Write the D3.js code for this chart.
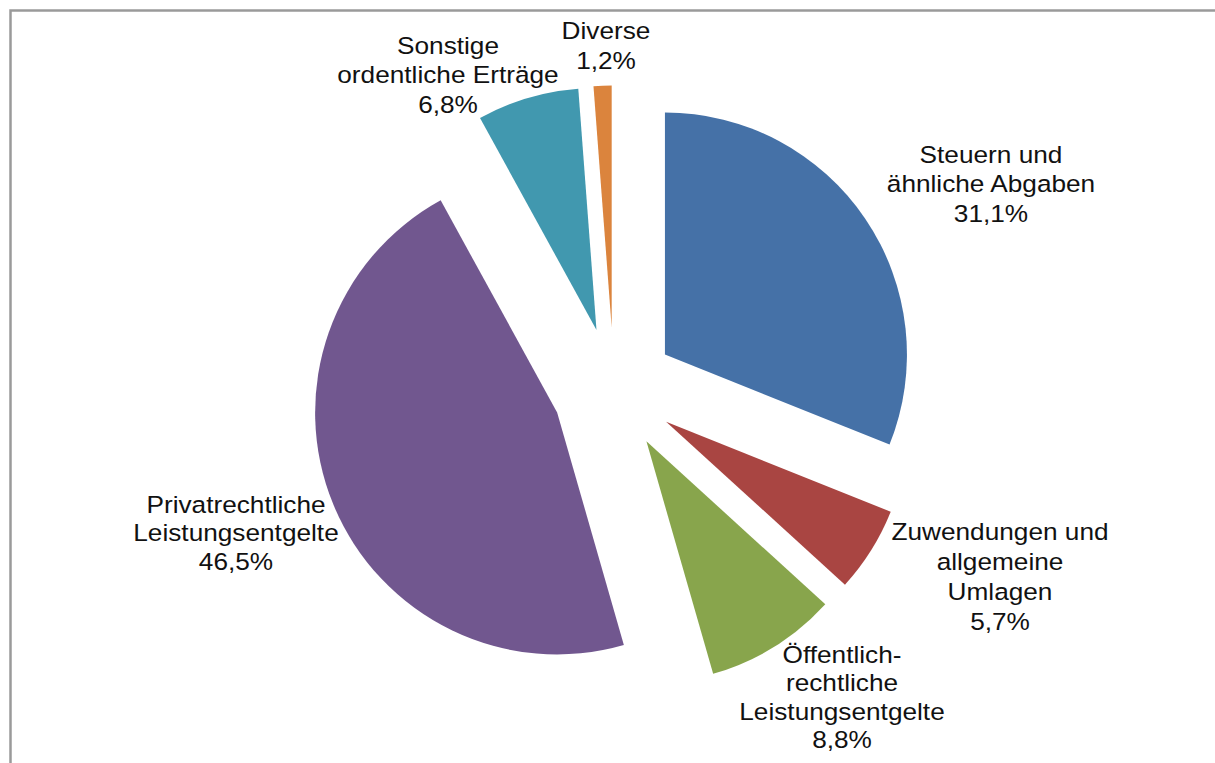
<!DOCTYPE html>
<html>
<head>
<meta charset="utf-8">
<script src="https://cdn.jsdelivr.net/npm/d3@7"></script>
<style>
  html, body { margin: 0; padding: 0; background: #fff; }
  svg { display: block; }
</style>
</head>
<body>
<script>
// ---- data ----
const categories = [
  "Steuern und ähnliche Abgaben",
  "Zuwendungen und allgemeine Umlagen",
  "Öffentlich-rechtliche Leistungsentgelte",
  "Privatrechtliche Leistungsentgelte",
  "Sonstige ordentliche Erträge",
  "Diverse"
];
const labelLines = [
  ["Steuern und", "ähnliche Abgaben"],
  ["Zuwendungen und", "allgemeine", "Umlagen"],
  ["Öffentlich-", "rechtliche", "Leistungsentgelte"],
  ["Privatrechtliche", "Leistungsentgelte"],
  ["Sonstige", "ordentliche Erträge"],
  ["Diverse"]
];
const values = [31.1, 5.7, 8.8, 46.5, 6.8, 1.2];
const colors = ["#4571A7", "#A94542", "#88A54C", "#71578F", "#4198AF", "#DB843D"];

// ---- layout (label anchors: x centre, first baseline, line height) ----
const labelLayout = [
  [991, 163, 29.5],
  [1000, 540, 30],
  [842, 663, 28.5],
  [236, 513, 28.5],
  [448, 54, 29.5],
  [606, 39, 30]
];

const W = 1215, H = 763;
const cx = 614, cy = 389, R = 242, explode = 61.5;

const svg = d3.select("body").append("svg")
  .attr("width", W).attr("height", H);

// frame
svg.append("rect")
  .attr("x", 10.5).attr("y", 10.5)
  .attr("width", W + 20).attr("height", H + 20)
  .attr("fill", "none")
  .attr("stroke", "#9a9a9a")
  .attr("stroke-width", 2.5);

const data = categories.map((c, i) => ({ name: c, value: values[i], lines: labelLines[i], color: colors[i], layout: labelLayout[i] }));

const pie = d3.pie().sort(null).value(d => d.value);
const arc = d3.arc().innerRadius(0).outerRadius(R);
const arcs = pie(data);

const g = svg.append("g").attr("transform", `translate(${cx},${cy})`);

g.selectAll("path.slice")
  .data(arcs)
  .join("path")
  .attr("class", "slice")
  .attr("fill", d => d.data.color)
  .attr("d", arc)
  .attr("transform", d => {
    const m = (d.startAngle + d.endAngle) / 2;
    return `translate(${explode * Math.sin(m)},${-explode * Math.cos(m)})`;
  });

const locale = d3.formatLocale({ decimal: ",", thousands: ".", grouping: [3], currency: ["", " €"] });
const fmt = locale.format(".1f");

const labels = svg.selectAll("text.lbl")
  .data(arcs)
  .join("text")
  .attr("class", "lbl")
  .attr("transform", d => `translate(${d.data.layout[0]},${d.data.layout[1]}) scale(1.07,1)`)
  .attr("text-anchor", "middle")
  .attr("font-family", "'Liberation Sans', Arial, sans-serif")
  .attr("font-size", 24.5)
  .attr("fill", "#111");

labels.each(function (d) {
  const t = d3.select(this);
  const lh = d.data.layout[2];
  const lines = d.data.lines.concat([fmt(d.data.value) + "%"]);
  lines.forEach((ln, i) => {
    t.append("tspan").attr("x", 0).attr("y", i * lh).text(ln);
  });
});
</script>
</body>
</html>
